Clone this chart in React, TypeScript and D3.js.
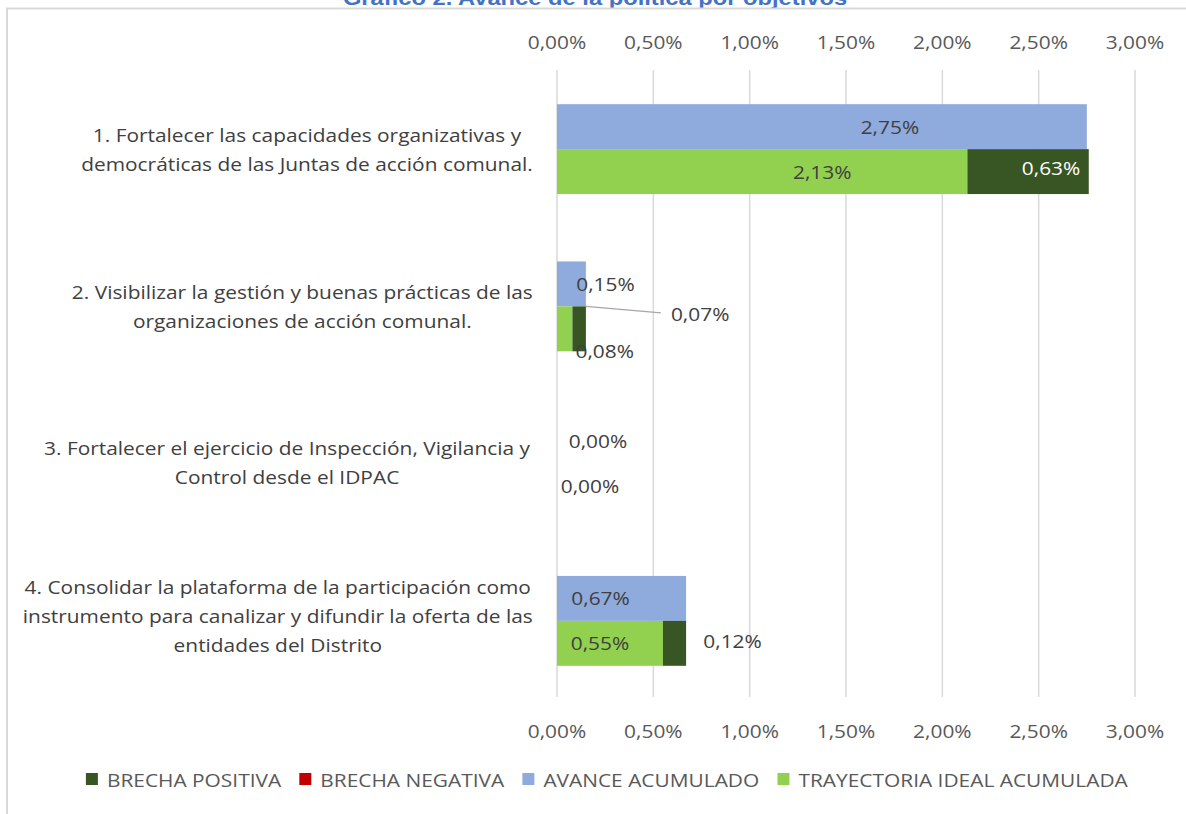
import React, { useMemo } from 'react';
import * as d3 from 'd3';

const title = 'Gráfico 2. Avance de la política por objetivos';
const categoryLines: string[][] = [
  ['1. Fortalecer las capacidades organizativas y', 'democráticas de las Juntas de acción comunal.'],
  ['2. Visibilizar la gestión y buenas prácticas de las', 'organizaciones de acción comunal.'],
  ['3.  Fortalecer el ejercicio de Inspección, Vigilancia y', 'Control desde el IDPAC'],
  ['4. Consolidar la plataforma de la participación como', 'instrumento para canalizar y difundir la oferta de las', 'entidades del Distrito'],
];
const avanceAcumulado = [2.75, 0.15, 0, 0.67];
const trayectoriaIdeal = [2.13, 0.08, 0, 0.55];
const brechaPositiva = [0.63, 0.07, 0, 0.12];
const brechaNegativa = [0, 0, 0, 0];
const tickValues = [0, 0.5, 1, 1.5, 2, 2.5, 3];
const legendLabels = ['BRECHA POSITIVA', 'BRECHA NEGATIVA', 'AVANCE ACUMULADO', 'TRAYECTORIA IDEAL ACUMULADA'];

// layout tweaks (pixels), kept apart from the data
const categoryDy = [0, 0, -1, -5];
const avanceLabelNudge = [[68, 0], [34, 0], [41, 0], [-21, 0]];
const trayLabelNudge = [[60, 0], [40, 22], [33, 0], [-10, 0]];
const brechaLabelNudge = [[23, -4], [121, -15], [0, 0], [58, -2]];
const brechaLeader = [false, true, false, false];

const C = {
  pos: '#375623',
  neg: '#C00000',
  avance: '#8FAADC',
  tray: '#92D050',
  grid: '#D9D9D9',
  text: '#404040',
  axis: '#595959',
  title: '#4472C4',
};
const FONT = "'Open Sans', 'DejaVu Sans', sans-serif";
const FS = 18.5;
const SX = 1.13;

const fmt = (v: number) => v.toFixed(2).replace('.', ',') + '%';

function measure(text: string, font: string) {
  if (typeof document === 'undefined') return text.length * 9;
  const c = document.createElement('canvas').getContext('2d')!;
  c.font = font;
  return c.measureText(text).width;
}

function T(props: any) {
  const { x, y, anchor = 'start', children, sx = SX, ...rest } = props;
  return (
    <g transform={`translate(${x},${y}) scale(${sx},1)`}>
      <text x={0} y={0} textAnchor={anchor} {...rest}>
        {children}
      </text>
    </g>
  );
}

export default function App() {
  const W = 1186;
  const H = 814;
  const x = d3.scaleLinear().domain([0, 3]).range([557, 1135]);
  const idx = categoryLines.map((_, i) => String(i));
  const y = d3.scaleBand().domain(idx).range([70.5, 699.5]).padding(0);
  const rows = d3.scaleBand().domain(['avance', 'tray']).range([0, y.bandwidth()]).paddingInner(0).paddingOuter(0.75);
  const bh = rows.bandwidth();
  const font = `${FS}px ${FONT}`;

  const legend = useMemo(() => {
    const sq = 12, gap = 9, itemGap = 18;
    const widths = legendLabels.map((l) => measure(l, font) * SX);
    const total = widths.reduce((a, w) => a + sq + gap + w, 0) + itemGap * (legendLabels.length - 1);
    let cx = 607 - total / 2;
    return legendLabels.map((l, i) => {
      const item = { label: l, x: cx, tx: cx + sq + gap };
      cx += sq + gap + widths[i] + itemGap;
      return item;
    });
  }, []);

  const lineH = 29.3;
  const labelRight = 533;

  return (
    <svg width={W} height={H} style={{ position: 'absolute', left: 0, top: 0, background: '#fff' }} fontFamily={FONT}>
      <rect x={0} y={0} width={W} height={H} fill="#fff" />
      <T x={595} y={5} anchor="middle" fontFamily="'Liberation Sans', Arial, sans-serif" fontWeight="bold" fontSize={21} fill={C.title}>
        {title}
      </T>
      <rect x={7} y={8.5} width={W + 10} height={H + 10} fill="none" stroke={C.grid} strokeWidth={2} />

      {/* gridlines */}
      {tickValues.map((t) => (
        <line key={'g' + t} x1={x(t)} x2={x(t)} y1={70} y2={697} stroke={C.grid} strokeWidth={1.5} />
      ))}
      {/* tick labels top & bottom */}
      {tickValues.map((t) => (
        <g key={'t' + t} fontSize={FS} fill={C.axis}>
          <T x={x(t)} y={48.5} anchor="middle">{fmt(t)}</T>
          <T x={x(t)} y={737.5} anchor="middle">{fmt(t)}</T>
        </g>
      ))}

      {/* category labels: each line centred, block right-aligned to the axis */}
      {categoryLines.map((lines, i) => {
        const cy = (y(String(i)) as number) + y.bandwidth() / 2 + categoryDy[i];
        const y0 = cy - ((lines.length - 1) * lineH) / 2;
        const maxW = Math.max(...lines.map((l) => measure(l, font) * SX));
        const cx = labelRight - maxW / 2;
        return (
          <g key={'c' + i} fontSize={FS} fill={C.text} style={{ whiteSpace: 'pre' }}>
            {lines.map((l, j) => (
              <T key={j} x={cx} y={y0 + j * lineH} anchor="middle" dominantBaseline="central">{l}</T>
            ))}
          </g>
        );
      })}

      {/* bars */}
      {categoryLines.map((_, i) => {
        const top = y(String(i)) as number;
        const ya = top + (rows('avance') as number);
        const yt = top + (rows('tray') as number);
        const a = avanceAcumulado[i];
        const t = trayectoriaIdeal[i];
        const p = brechaPositiva[i];
        const n = brechaNegativa[i];
        return (
          <g key={'b' + i}>
            {a > 0 && <rect x={x(0)} y={ya} width={x(a) - x(0)} height={bh} fill={C.avance} />}
            {t > 0 && <rect x={x(0)} y={yt} width={x(t) - x(0)} height={bh} fill={C.tray} />}
            {p > 0 && <rect x={x(t)} y={yt} width={x(t + p) - x(t)} height={bh} fill={C.pos} />}
            {n > 0 && <rect x={x(t + p)} y={yt} width={x(t + p + n) - x(t + p)} height={bh} fill={C.neg} />}
          </g>
        );
      })}

      {/* data labels */}
      {categoryLines.map((_, i) => {
        const top = y(String(i)) as number;
        const ya = top + (rows('avance') as number) + bh / 2;
        const yt = top + (rows('tray') as number) + bh / 2;
        const a = avanceAcumulado[i];
        const t = trayectoriaIdeal[i];
        const p = brechaPositiva[i];
        const ax = (x(0) + x(a)) / 2 + avanceLabelNudge[i][0];
        const tx = (x(0) + x(t)) / 2 + trayLabelNudge[i][0];
        const px = (x(t) + x(t + p)) / 2 + brechaLabelNudge[i][0];
        const py = yt + brechaLabelNudge[i][1];
        const pw = measure(fmt(p), font) * SX;
        return (
          <g key={'l' + i} fontSize={FS}>
            <T x={ax} y={ya + avanceLabelNudge[i][1]} anchor="middle" dominantBaseline="central" fill={C.text}>{fmt(a)}</T>
            <T x={tx} y={yt + trayLabelNudge[i][1]} anchor="middle" dominantBaseline="central" fill={C.text}>{fmt(t)}</T>
            {p > 0 && brechaLeader[i] && (
              <polyline
                points={`${x(t + p)},${yt - bh / 2} ${px - pw / 2 - 10},${py - 1}`}
                fill="none"
                stroke="#A6A6A6"
                strokeWidth={1.2}
              />
            )}
            {p > 0 && (
              <T x={px} y={py} anchor="middle" dominantBaseline="central" fill={px > x(t + p) ? C.text : '#FFFFFF'}>{fmt(p)}</T>
            )}
          </g>
        );
      })}

      {/* legend */}
      {legend.map((it, i) => (
        <g key={'lg' + i}>
          <rect x={it.x} y={773} width={12} height={12} fill={[C.pos, C.neg, C.avance, C.tray][i]} />
          <T x={it.tx} y={779.5} dominantBaseline="central" fontSize={FS} fill={C.axis}>{it.label}</T>
        </g>
      ))}
    </svg>
  );
}
